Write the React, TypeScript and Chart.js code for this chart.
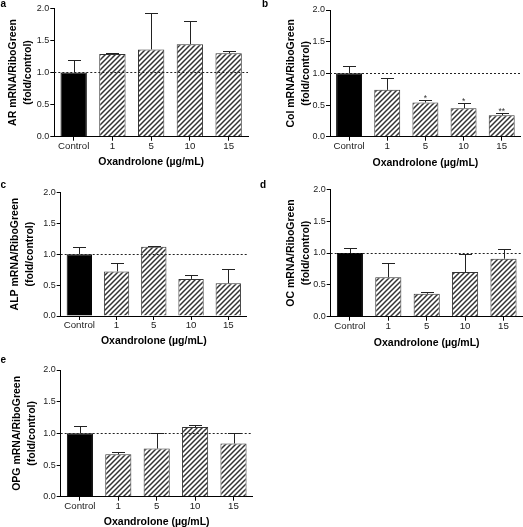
import React, { useEffect, useRef } from 'react';
import { Chart, registerables } from 'chart.js';

Chart.register(...registerables);

const categories = ['Control', '1', '5', '10', '15'];
const yTicks = [0, 0.5, 1.0, 1.5, 2.0];
const xAxisTitle = 'Oxandrolone (µg/mL)';
const yAxisSubTitle = '(fold/control)';

const arMeans = [1.0, 1.29, 1.36, 1.44, 1.3];
const arErrors = [0.19, 0.02, 0.56, 0.36, 0.03];

const colMeans = [1.0, 0.74, 0.54, 0.45, 0.34];
const colErrors = [0.11, 0.18, 0.045, 0.08, 0.03];
const colStars = ['', '', '*', '*', '**'];

const alpMeans = [1.0, 0.72, 1.12, 0.6, 0.53];
const alpErrors = [0.12, 0.14, 0.005, 0.06, 0.225];

const ocMeans = [1.0, 0.62, 0.36, 0.7, 0.91];
const ocErrors = [0.08, 0.22, 0.035, 0.29, 0.16];

const opgMeans = [1.0, 0.67, 0.76, 1.1, 0.84];
const opgErrors = [0.12, 0.04, 0.25, 0.025, 0.16];

const FONT = "'Liberation Sans', Arial, Helvetica, sans-serif";

type PanelCfg = {
  letter: string;
  yLabel: string;
  means: number[];
  errors: number[];
  stars?: string[];
  x: number; y: number; w: number; h: number;
  l: number; t: number; r: number; b: number;
  xTickY: number; xTitleY: number; yTitleX: number;
  letterX: number; letterY: number;
};

const panels: PanelCfg[] = [
  { letter: 'a', yLabel: 'AR mRNA/RiboGreen', means: arMeans, errors: arErrors,
    x: 0, y: 0, w: 262, h: 180, l: 54.3, t: 8.3, r: 248, b: 136.7,
    xTickY: 146, xTitleY: 162, yTitleX: 13.3, letterX: 0.5, letterY: -1.5 },
  { letter: 'b', yLabel: 'Col mRNA/RiboGreen', means: colMeans, errors: colErrors, stars: colStars,
    x: 262, y: 0, w: 261, h: 180, l: 68, t: 10, r: 258.8, b: 136.7,
    xTickY: 146.7, xTitleY: 162.7, yTitleX: 29.3, letterX: 262, letterY: -1 },
  { letter: 'c', yLabel: 'ALP mRNA/RiboGreen', means: alpMeans, errors: alpErrors,
    x: 0, y: 180, w: 262, h: 170, l: 60.7, t: 12.3, r: 246.9, b: 136,
    xTickY: 145.7, xTitleY: 161.3, yTitleX: 15, letterX: 0.5, letterY: 179.5 },
  { letter: 'd', yLabel: 'OC mRNA/RiboGreen', means: ocMeans, errors: ocErrors,
    x: 262, y: 180, w: 261, h: 170, l: 68.7, t: 9.3, r: 260.7, b: 136.7,
    xTickY: 146.7, xTitleY: 162.7, yTitleX: 29.3, letterX: 260, letterY: 179.5 },
  { letter: 'e', yLabel: 'OPG mRNA/RiboGreen', means: opgMeans, errors: opgErrors,
    x: 0, y: 350, w: 262, h: 177, l: 60.7, t: 20, r: 252.7, b: 146.7,
    xTickY: 156.7, xTitleY: 172.3, yTitleX: 16.7, letterX: 0.5, letterY: 354.5 },
];

function makeHatch(): CanvasPattern | string {
  const c = document.createElement('canvas');
  const s = 5;
  c.width = s;
  c.height = s;
  const g = c.getContext('2d');
  if (!g) return '#999';
  g.fillStyle = '#ffffff';
  g.fillRect(0, 0, s, s);
  g.strokeStyle = '#333333';
  g.lineWidth = 1.5;
  g.beginPath();
  g.moveTo(-1, s + 1); g.lineTo(s + 1, -1);
  g.moveTo(-1, 1); g.lineTo(1, -1);
  g.moveTo(s - 1, s + 1); g.lineTo(s + 1, s - 1);
  g.stroke();
  return g.createPattern(c, 'repeat') || '#999';
}

function Panel({ cfg }: { cfg: PanelCfg }) {
  const ref = useRef<HTMLCanvasElement>(null);
  useEffect(() => {
    if (!ref.current) return;
    const hatch = makeHatch();
    const tickSize = 9.7;
    const titleSize = 10.5;
    const xTitleLH = titleSize * 1.2;
    const xh = cfg.xTitleY + xTitleLH / 2 - cfg.b;
    const tickLen = 4;
    const xTickPad = cfg.xTickY - cfg.b - tickLen - (tickSize * 1.2) / 2;
    const yTitleLH = 15;

    const overlay = {
      id: 'overlay',
      afterDatasetsDraw(chart: any) {
        const { ctx, chartArea, scales } = chart;
        const ys = scales.y;
        const yy = Math.round(ys.getPixelForValue(1)) + 0.5;
        ctx.save();
        ctx.strokeStyle = '#222';
        ctx.lineWidth = 1;
        ctx.setLineDash([2, 2]);
        ctx.beginPath();
        ctx.moveTo(chartArea.left, yy);
        ctx.lineTo(chartArea.right, yy);
        ctx.stroke();
        ctx.setLineDash([]);
        const meta = chart.getDatasetMeta(0);
        meta.data.forEach((bar: any, i: number) => {
          const p = bar.getProps(['x', 'y', 'width'], true);
          const ey = Math.round(ys.getPixelForValue(cfg.means[i] + cfg.errors[i])) + 0.5;
          const xc = Math.round(p.x) + 0.5;
          const hw = p.width / 4;
          ctx.strokeStyle = '#222';
          ctx.beginPath();
          ctx.moveTo(xc, p.y);
          ctx.lineTo(xc, ey);
          ctx.moveTo(Math.round(xc - hw), ey);
          ctx.lineTo(Math.round(xc + hw), ey);
          ctx.stroke();
          const star = cfg.stars ? cfg.stars[i] : '';
          if (star) {
            ctx.fillStyle = '#333';
            ctx.font = `8.5px ${FONT}`;
            ctx.textAlign = 'center';
            ctx.textBaseline = 'alphabetic';
            ctx.fillText(star, p.x, ey + 0.5);
          }
        });
        ctx.restore();
      },
    };

    const chart = new Chart(ref.current, {
      type: 'bar',
      data: {
        labels: categories,
        datasets: [
          {
            data: cfg.means,
            backgroundColor: cfg.means.map((_, i) => (i === 0 ? '#000000' : hatch)) as any,
            borderColor: cfg.means.map((_, i) => (i === 0 ? '#000000' : '#333333')),
            borderWidth: 1,
            categoryPercentage: 1,
            barPercentage: 0.68,
          },
        ],
      },
      options: {
        animation: false,
        responsive: false,
        maintainAspectRatio: false,
        events: [],
        layout: {
          padding: { left: 0, top: cfg.t, right: cfg.w - cfg.r, bottom: cfg.h - cfg.b - xh },
        },
        plugins: { legend: { display: false }, tooltip: { enabled: false }, title: { display: false } },
        scales: {
          x: {
            type: 'category',
            offset: true,
            grid: { display: true, drawOnChartArea: false, drawTicks: true, tickLength: tickLen, color: '#000', offset: false },
            border: { display: true, color: '#000', width: 1 },
            ticks: { font: { family: FONT, size: tickSize }, color: '#222', padding: xTickPad, maxRotation: 0, autoSkip: false },
            title: { display: true, text: xAxisTitle, color: '#000', font: { family: FONT, size: titleSize, weight: 'bold', lineHeight: 1.2 }, padding: 0 },
            afterFit: (s: any) => { s.height = xh; },
          },
          y: {
            min: 0,
            max: 2,
            grid: { display: true, drawOnChartArea: false, drawTicks: true, tickLength: tickLen, color: '#000' },
            border: { display: true, color: '#000', width: 1 },
            ticks: { font: { family: FONT, size: 9 }, color: '#222', padding: 1, callback: (v: any) => Number(v).toFixed(1) },
            afterBuildTicks: (s: any) => { s.ticks = yTicks.map((v) => ({ value: v })); },
            title: {
              display: true,
              text: [cfg.yLabel, yAxisSubTitle],
              color: '#000',
              font: { family: FONT, size: titleSize, weight: 'bold', lineHeight: `${yTitleLH}px` },
              padding: { top: cfg.yTitleX - yTitleLH / 2, bottom: 0 },
            },
            afterFit: (s: any) => { s.width = cfg.l; },
          },
        },
      } as any,
      plugins: [overlay],
    });
    return () => chart.destroy();
  }, [cfg]);

  return (
    <>
      <canvas
        ref={ref}
        width={cfg.w}
        height={cfg.h}
        style={{ position: 'absolute', left: cfg.x, top: cfg.y, width: cfg.w, height: cfg.h, display: 'block' }}
      />
      <div
        style={{
          position: 'absolute', left: cfg.letterX, top: cfg.letterY, font: `bold 10px ${FONT}`,
          lineHeight: '10px', color: '#000',
        }}
      >
        {cfg.letter}
      </div>
    </>
  );
}

export default function App() {
  return (
    <div style={{ position: 'absolute', left: 0, top: 0, width: 523, height: 527, background: '#fff', overflow: 'hidden' }}>
      {panels.map((p) => (
        <Panel key={p.letter} cfg={p} />
      ))}
    </div>
  );
}
